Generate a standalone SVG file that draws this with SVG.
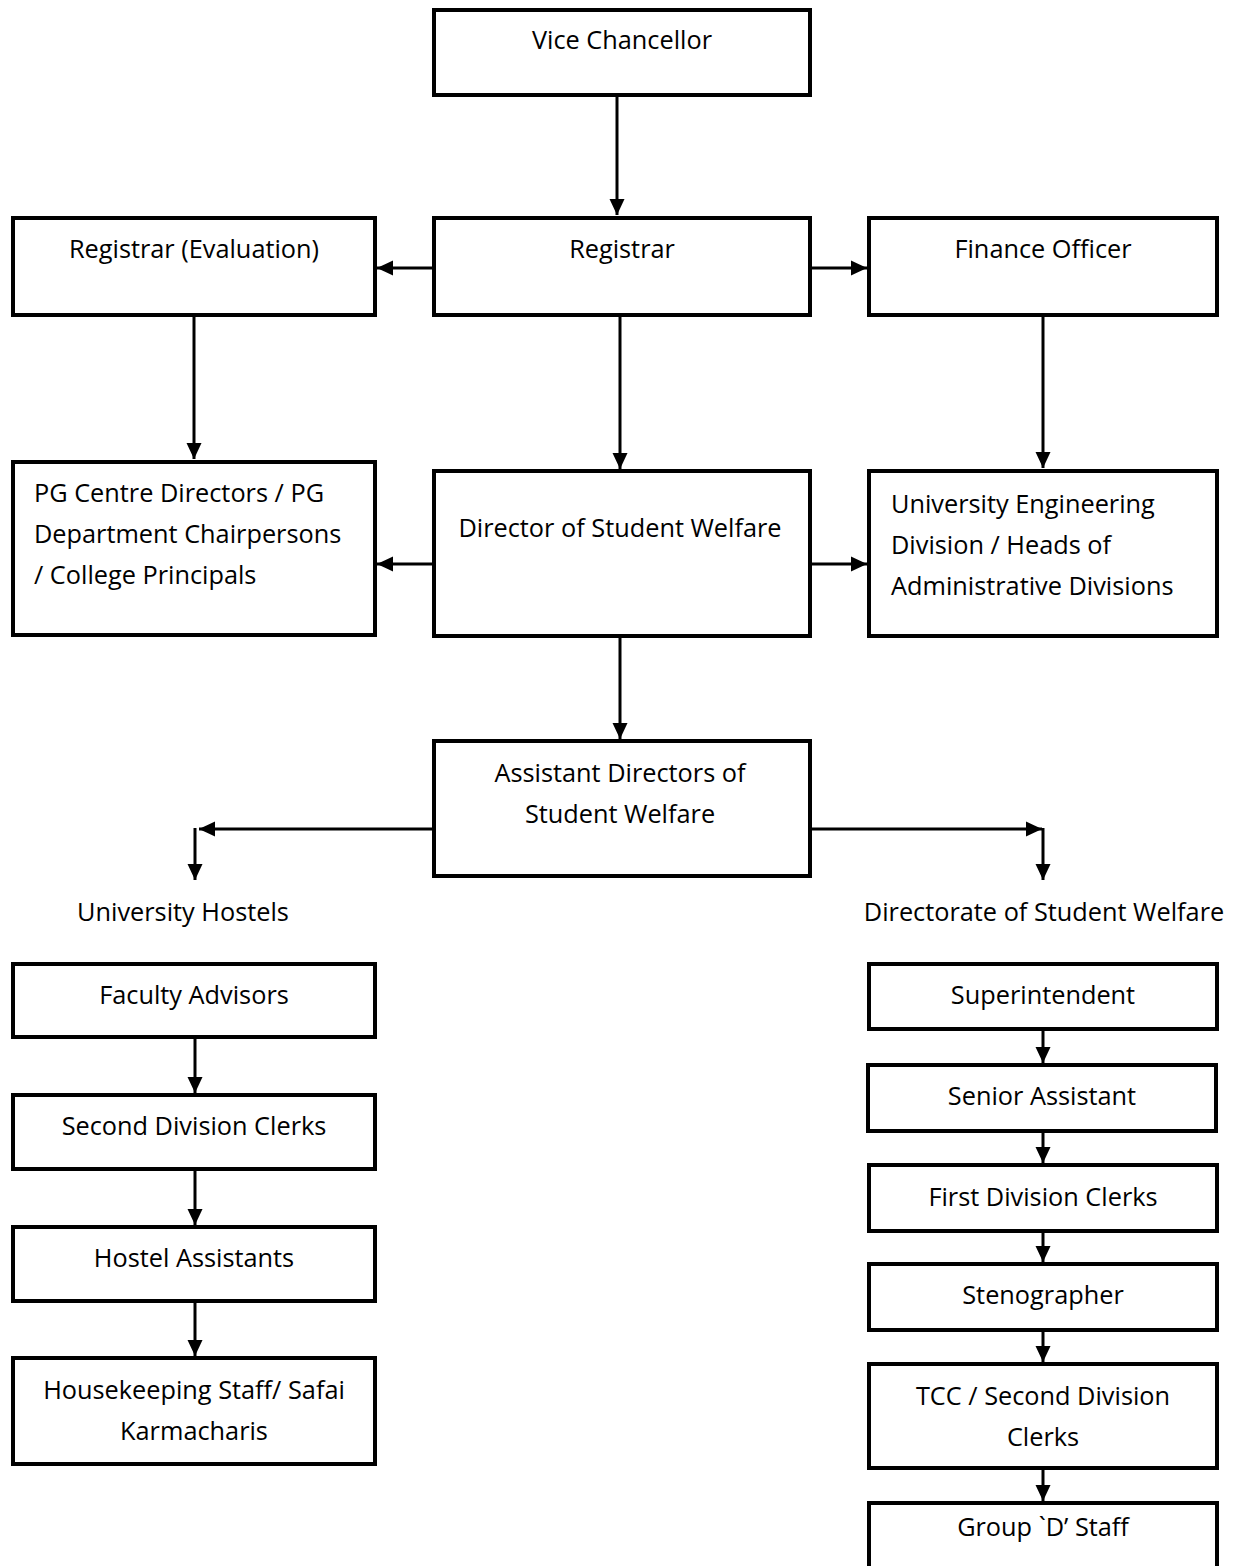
<svg xmlns="http://www.w3.org/2000/svg" width="1238" height="1566" viewBox="0 0 1238 1566">
<style>
.box{fill:#fff;stroke:#000;stroke-width:4}
.t{font-family:"Open Sans","Liberation Sans",sans-serif;font-size:25.3px;fill:#000}
.c{text-anchor:middle}
.e{fill:none;stroke:#000;stroke-width:3}
</style>
<defs>
<marker id="ah" markerUnits="userSpaceOnUse" markerWidth="17" markerHeight="16" refX="16" refY="8" orient="auto">
<path d="M0,0.5 L16,8 L0,15.5 Z" fill="#000"/>
</marker>
</defs>
<rect width="1238" height="1566" fill="#fff"/>
<g id="connectors">
<line class="e" x1="617" y1="96" x2="617" y2="215" marker-end="url(#ah)"/>
<line class="e" x1="433" y1="268" x2="377" y2="268" marker-end="url(#ah)"/>
<line class="e" x1="810" y1="268" x2="867" y2="268" marker-end="url(#ah)"/>
<line class="e" x1="194" y1="316" x2="194" y2="459" marker-end="url(#ah)"/>
<line class="e" x1="620" y1="316" x2="620" y2="469" marker-end="url(#ah)"/>
<line class="e" x1="1043" y1="316" x2="1043" y2="468" marker-end="url(#ah)"/>
<line class="e" x1="433" y1="564" x2="377" y2="564" marker-end="url(#ah)"/>
<line class="e" x1="810" y1="564" x2="867" y2="564" marker-end="url(#ah)"/>
<line class="e" x1="620" y1="636" x2="620" y2="739" marker-end="url(#ah)"/>
<line class="e" x1="433" y1="829" x2="199" y2="829" marker-end="url(#ah)"/>
<line class="e" x1="195" y1="828" x2="195" y2="880" marker-end="url(#ah)"/>
<line class="e" x1="810" y1="829" x2="1042" y2="829" marker-end="url(#ah)"/>
<line class="e" x1="1043" y1="828" x2="1043" y2="880" marker-end="url(#ah)"/>
<line class="e" x1="195" y1="1038" x2="195" y2="1093" marker-end="url(#ah)"/>
<line class="e" x1="195" y1="1170" x2="195" y2="1225" marker-end="url(#ah)"/>
<line class="e" x1="195" y1="1302" x2="195" y2="1356" marker-end="url(#ah)"/>
<line class="e" x1="1043" y1="1030" x2="1043" y2="1063" marker-end="url(#ah)"/>
<line class="e" x1="1043" y1="1131" x2="1043" y2="1163" marker-end="url(#ah)"/>
<line class="e" x1="1043" y1="1232" x2="1043" y2="1262" marker-end="url(#ah)"/>
<line class="e" x1="1043" y1="1331" x2="1043" y2="1362" marker-end="url(#ah)"/>
<line class="e" x1="1043" y1="1468" x2="1043" y2="1501" marker-end="url(#ah)"/>
</g>
<g id="vc"><rect class="box" x="434" y="10" width="376" height="85"/><text class="t c" x="622" y="49">Vice Chancellor</text></g>
<g id="registrar"><rect class="box" x="434" y="218" width="376" height="97"/><text class="t c" x="622" y="258">Registrar</text></g>
<g id="reg-eval"><rect class="box" x="13" y="218" width="362" height="97"/><text class="t c" x="194" y="258">Registrar (Evaluation)</text></g>
<g id="finance"><rect class="box" x="869" y="218" width="348" height="97"/><text class="t c" x="1043" y="258">Finance Officer</text></g>
<g id="pg"><rect class="box" x="13" y="462" width="362" height="173"/>
<text class="t" x="34" y="502">PG Centre Directors / PG</text>
<text class="t" x="34" y="543">Department Chairpersons</text>
<text class="t" x="34" y="584">/ College Principals</text></g>
<g id="dsw"><rect class="box" x="434" y="471" width="376" height="165"/><text class="t c" x="620" y="537">Director of Student Welfare</text></g>
<g id="ued"><rect class="box" x="869" y="471" width="348" height="165"/>
<text class="t" x="891" y="513">University Engineering</text>
<text class="t" x="891" y="554">Division / Heads of</text>
<text class="t" x="891" y="595">Administrative Divisions</text></g>
<g id="adsw"><rect class="box" x="434" y="741" width="376" height="135"/>
<text class="t c" x="620" y="782">Assistant Directors of</text>
<text class="t c" x="620" y="823">Student Welfare</text></g>
<g id="hostels-label"><text class="t c" x="183" y="921">University Hostels</text></g>
<g id="dsw-label"><text class="t c" x="1044" y="921">Directorate of Student Welfare</text></g>
<g id="faculty"><rect class="box" x="13" y="964" width="362" height="73"/><text class="t c" x="194" y="1004">Faculty Advisors</text></g>
<g id="sdc"><rect class="box" x="13" y="1095" width="362" height="74"/><text class="t c" x="194" y="1135">Second Division Clerks</text></g>
<g id="hostel-asst"><rect class="box" x="13" y="1227" width="362" height="74"/><text class="t c" x="194" y="1267">Hostel Assistants</text></g>
<g id="housekeeping"><rect class="box" x="13" y="1358" width="362" height="106"/>
<text class="t c" x="194" y="1399">Housekeeping Staff/ Safai</text>
<text class="t c" x="194" y="1440">Karmacharis</text></g>
<g id="supt"><rect class="box" x="869" y="964" width="348" height="65"/><text class="t c" x="1043" y="1004">Superintendent</text></g>
<g id="senior"><rect class="box" x="868" y="1065" width="348" height="66"/><text class="t c" x="1042" y="1105">Senior Assistant</text></g>
<g id="fdc"><rect class="box" x="869" y="1165" width="348" height="66"/><text class="t c" x="1043" y="1206">First Division Clerks</text></g>
<g id="steno"><rect class="box" x="869" y="1264" width="348" height="66"/><text class="t c" x="1043" y="1304">Stenographer</text></g>
<g id="tcc"><rect class="box" x="869" y="1364" width="348" height="104"/>
<text class="t c" x="1043" y="1405">TCC / Second Division</text>
<text class="t c" x="1043" y="1446">Clerks</text></g>
<g id="groupd"><rect class="box" x="869" y="1503" width="348" height="70"/><text class="t c" x="1043" y="1536">Group `D’ Staff</text></g>
</svg>
